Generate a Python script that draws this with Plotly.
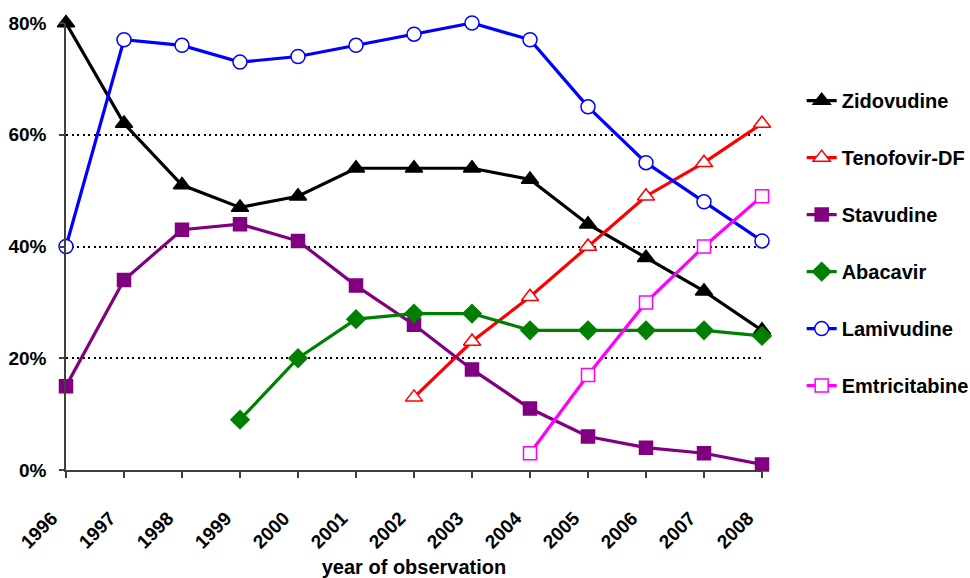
import plotly.graph_objects as go

years = list(range(1996, 2009))
zidovudine = [80, 62, 51, 47, 49, 54, 54, 54, 52, 44, 38, 32, 25]
tenofovir_years = list(range(2002, 2009))
tenofovir = [13, 23, 31, 40, 49, 55, 62]
stavudine = [15, 34, 43, 44, 41, 33, 26, 18, 11, 6, 4, 3, 1]
abacavir_years = list(range(1999, 2009))
abacavir = [9, 20, 27, 28, 28, 25, 25, 25, 25, 24]
lamivudine = [40, 77, 76, 73, 74, 76, 78, 80, 77, 65, 55, 48, 41]
emtricitabine_years = list(range(2004, 2009))
emtricitabine = [3, 17, 30, 40, 49]
y_ticks = [0, 20, 40, 60, 80]
y_tick_labels = ["0%", "20%", "40%", "60%", "80%"]

FONT = "Liberation Sans, Arial, sans-serif"

series = [
    ("Zidovudine", years, zidovudine, "#000000", "triangle-up", "#000000", 15),
    ("Tenofovir-DF", tenofovir_years, tenofovir, "#FF0000", "triangle-up", "#FFFFFF", 15),
    ("Stavudine", years, stavudine, "#800080", "square", "#800080", 13),
    ("Abacavir", abacavir_years, abacavir, "#008000", "diamond", "#008000", 14),
    ("Lamivudine", years, lamivudine, "#0000FF", "circle", "#FFFFFF", 14),
    ("Emtricitabine", emtricitabine_years, emtricitabine, "#FF00FF", "square", "#FFFFFF", 13),
]

fig = go.Figure()
for i, (name, xs, ys, col, sym, fill, size) in enumerate(series):
    fig.add_trace(go.Scatter(
        x=xs, y=ys, name=name, mode="lines+markers",
        line=dict(color=col, width=3.2),
        marker=dict(symbol=sym, size=size, color=fill, line=dict(color=col, width=1.5)),
        legendgroup=f"g{i}", cliponaxis=False,
    ))

fig.update_layout(
    width=970, height=578,
    margin=dict(l=66, r=208, t=23, b=108, autoexpand=False),
    paper_bgcolor="white", plot_bgcolor="white",
    font=dict(family=FONT, color="#000000"),
    showlegend=True,
    legend=dict(
        x=1.057, y=0.87, xanchor="left", yanchor="top",
        font=dict(family=FONT, size=20, color="#000000", weight="bold"),
        tracegroupgap=28, traceorder="grouped",
        bgcolor="rgba(0,0,0,0)",
    ),
    xaxis=dict(
        range=[1996, 2008], tickmode="array", tickvals=years,
        ticktext=[str(y) for y in years], tickangle=-45,
        ticks="outside", ticklen=6, tickcolor="#404040", tickwidth=1.5,
        showline=True, linecolor="#404040", linewidth=1.5,
        showgrid=False, zeroline=False, automargin=False,
        tickfont=dict(family=FONT, size=19, color="#000000", weight="bold"),
        ticklabelstandoff=22, ticklabelshift=-14,
        title=dict(text="year of observation", standoff=14,
                   font=dict(family=FONT, size=20, color="#000000", weight="bold")),
    ),
    yaxis=dict(
        range=[0, 80], tickmode="array", tickvals=y_ticks, ticktext=y_tick_labels,
        ticks="outside", ticklen=5, tickcolor="#404040", tickwidth=1.5,
        showline=True, linecolor="#404040", linewidth=1.5,
        showgrid=True, gridcolor="#000000", griddash="2px,3.5px", gridwidth=2,
        zeroline=False, automargin=False,
        tickfont=dict(family=FONT, size=19, color="#000000", weight="bold"),
        ticklabelstandoff=9,
    ),
)

fig.write_html(
    "out.html",
    config={"displayModeBar": False},
    post_script="document.body.style.margin='0';document.body.style.overflow='hidden';",
)
